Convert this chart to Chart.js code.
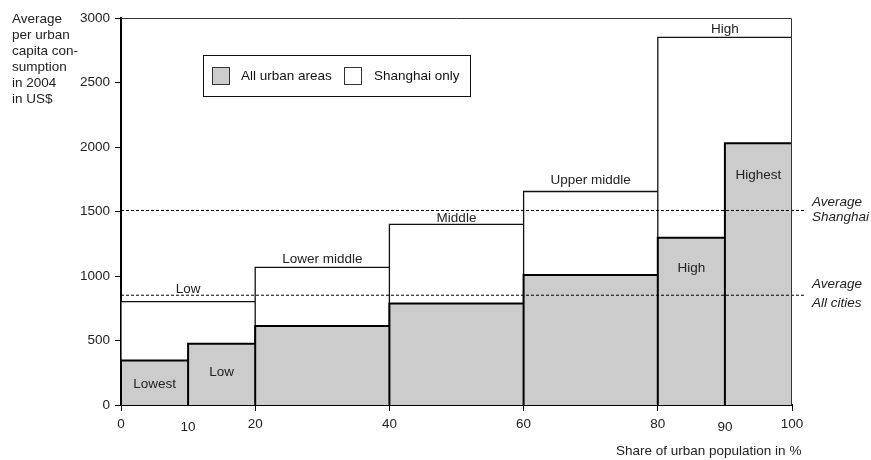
<!DOCTYPE html>
<html><head><meta charset="utf-8">
<script src="https://cdn.jsdelivr.net/npm/chart.js@4.4.1/dist/chart.umd.min.js"></script>
<style>html,body{margin:0;padding:0;background:#fff}#wrap{width:871px;height:460px}</style>
</head><body><div id="wrap"><canvas id="c" width="871" height="460"></canvas></div>
<script>
// ---- data ----
const edgesAll = [0, 10, 20, 40, 60, 80, 90, 100];
const valuesAll = [345, 474, 613, 787, 1008, 1297, 2030];
const labelsAll = ['Lowest', 'Low', '', '', '', 'High', 'Highest'];
const edgesShanghai = [0, 20, 40, 60, 80, 100];
const valuesShanghai = [802, 1067, 1400, 1655, 2850];
const labelsShanghai = ['Low', 'Lower middle', 'Middle', 'Upper middle', 'High'];
const avgShanghai = 1508;
const avgAllCities = 851;
const xTickValues = [0, 10, 20, 40, 60, 80, 90, 100];
const yTickValues = [0, 500, 1000, 1500, 2000, 2500, 3000];
const seriesNames = ['All urban areas', 'Shanghai only'];

// ---- layout of text labels (baseline, in data units) ----
const allLabelBaseline = [132, 222, null, null, null, 1029, 1749];
const shanghaiLabelBaseline = [868, 1103, 1415, 1710, 2880];

const FONT = '"Liberation Sans", Arial, sans-serif';
const GREY = '#cccccc';

function barOutline(edges, values) {
  const pts = [];
  values.forEach((v, i) => {
    pts.push({x: edges[i], y: 0}, {x: edges[i], y: v}, {x: edges[i + 1], y: v}, {x: edges[i + 1], y: 0});
  });
  return pts;
}

const decor = {
  id: 'decor',
  afterDatasetsDraw(chart) {
    const ctx = chart.ctx, xs = chart.scales.x, ys = chart.scales.y, a = chart.chartArea;
    ctx.save();
    // plot frame top/right
    ctx.strokeStyle = '#333'; ctx.lineWidth = 1;
    ctx.beginPath();
    ctx.moveTo(a.left, Math.round(a.top) + 0.5);
    ctx.lineTo(Math.round(a.right) - 0.5, Math.round(a.top) + 0.5);
    ctx.lineTo(Math.round(a.right) - 0.5, a.bottom);
    ctx.stroke();

    ctx.fillStyle = '#222';
    ctx.font = '13.5px ' + FONT;
    ctx.textAlign = 'center';
    ctx.textBaseline = 'alphabetic';
    labelsAll.forEach((t, i) => {
      if (!t) return;
      const cx = xs.getPixelForValue((edgesAll[i] + edgesAll[i + 1]) / 2);
      ctx.fillText(t, cx, ys.getPixelForValue(allLabelBaseline[i]));
    });
    labelsShanghai.forEach((t, i) => {
      const cx = xs.getPixelForValue((edgesShanghai[i] + edgesShanghai[i + 1]) / 2);
      ctx.fillText(t, cx, ys.getPixelForValue(shanghaiLabelBaseline[i]));
    });

    // average labels
    ctx.font = 'italic 13.5px ' + FONT;
    ctx.textAlign = 'left';
    ctx.textBaseline = 'middle';
    const pS = ys.getPixelForValue(avgShanghai), pA = ys.getPixelForValue(avgAllCities);
    ctx.fillText('Average', 812, pS - 8);
    ctx.fillText('Shanghai', 812, pS + 7);
    ctx.fillText('Average', 812, pA - 11);
    ctx.fillText('All cities', 812, pA + 8);

    // y axis title
    ctx.font = '13.5px ' + FONT;
    ['Average', 'per urban', 'capita con-', 'sumption', 'in 2004', 'in US$'].forEach((t, i) => {
      ctx.fillText(t, 12, 19 + i * 16);
    });
    // x axis title
    ctx.fillText('Share of urban population in %', 616, 451);

    // legend
    ctx.strokeStyle = '#111'; ctx.lineWidth = 1;
    ctx.strokeRect(203.5, 55.5, 267, 41);
    const ds = chart.data.datasets;
    [[212, 241, ds[0]], [344, 374, ds[1]]].forEach(([sx, tx, d]) => {
      ctx.fillStyle = d.backgroundColor;
      ctx.fillRect(sx, 67, 17, 17);
      ctx.strokeStyle = '#333';
      ctx.strokeRect(sx + 0.5, 67.5, 17, 17);
      ctx.fillStyle = '#111';
      ctx.fillText(d.label, tx, 76);
    });
    ctx.restore();
  }
};

new Chart(document.getElementById('c'), {
  type: 'line',
  data: {
    datasets: [
      {label: seriesNames[0], data: barOutline(edgesAll, valuesAll), backgroundColor: GREY, borderColor: '#000',
       borderWidth: 2, fill: 'origin', pointRadius: 0, tension: 0, order: 1, borderJoinStyle: 'miter'},
      {label: seriesNames[1], data: barOutline(edgesShanghai, valuesShanghai), backgroundColor: '#ffffff', borderColor: '#111',
       borderWidth: 1.3, fill: 'origin', pointRadius: 0, tension: 0, order: 2, borderJoinStyle: 'miter'},
      {label: 'avgS', data: [{x: 0, y: avgShanghai}, {x: 102, y: avgShanghai}], borderColor: '#000', borderWidth: 1,
       borderDash: [3, 2], pointRadius: 0, fill: false, clip: false, order: 0},
      {label: 'avgA', data: [{x: 0, y: avgAllCities}, {x: 102, y: avgAllCities}], borderColor: '#000', borderWidth: 1,
       borderDash: [3, 2], pointRadius: 0, fill: false, clip: false, order: 0}
    ]
  },
  options: {
    responsive: false,
    animation: false,
    devicePixelRatio: 1,
    layout: {padding: {top: 18, right: 79, left: 0, bottom: 0}},
    plugins: {legend: {display: false}, tooltip: {enabled: false}},
    events: [],
    scales: {
      x: {
        type: 'linear', min: 0, max: 100,
        afterBuildTicks: s => { s.ticks = xTickValues.map(v => ({value: v})); },
        afterFit: s => { s.height = 55; },
        ticks: {
          autoSkip: false, maxRotation: 0, padding: 5, color: '#222',
          callback: v => String(v),
          font: c => ({family: FONT, size: 13.5,
            lineHeight: (c.tick && (c.tick.value === 10 || c.tick.value === 90)) ? 1.6 : 1.2})
        },
        grid: {drawOnChartArea: false, tickLength: 6, lineWidth: 1,
          color: c => (c.tick && (c.tick.value === 10 || c.tick.value === 90)) ? 'rgba(0,0,0,0)' : '#000'},
        border: {display: true, color: '#000', width: 2}
      },
      y: {
        type: 'linear', min: 0, max: 3000,
        afterBuildTicks: s => { s.ticks = yTickValues.map(v => ({value: v})); },
        afterFit: s => { s.width = 121; },
        ticks: {padding: 5, color: '#222', font: {family: FONT, size: 13.5}, callback: v => String(v)},
        grid: {drawOnChartArea: false, tickLength: 6, lineWidth: 1, color: '#000'},
        border: {display: true, color: '#000', width: 2}
      }
    }
  },
  plugins: [decor]
});
</script>
</body></html>
